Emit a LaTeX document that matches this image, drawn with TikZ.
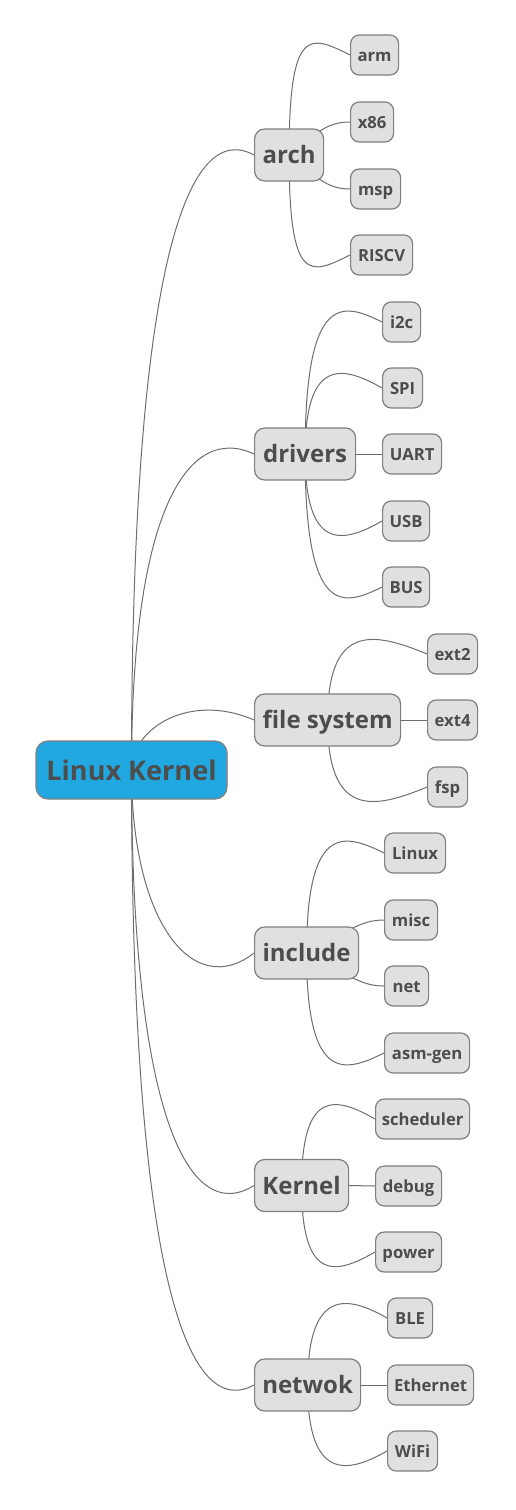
\documentclass[tikz,border=0pt]{standalone}
\usepackage{fontspec}
\setmainfont{Open Sans}
\usetikzlibrary{backgrounds}
\definecolor{txtc}{HTML}{4D4D4D}
\definecolor{boxfill}{HTML}{E0E0E0}
\definecolor{boxline}{HTML}{7F7F7F}
\definecolor{edgec}{HTML}{6E6E6E}
\definecolor{rootfill}{HTML}{22A8E0}
\begin{document}
\begin{tikzpicture}[x=0.75pt,y=-0.75pt,
  boxbase/.style={draw=boxline, line width=0.9pt, text=txtc, inner sep=0pt, text depth=0pt, align=center},
  rootbox/.style={boxbase, fill=rootfill, rounded corners=9pt, minimum width=143.25pt, minimum height=43.5pt,
     font=\fontsize{20.3}{24}\selectfont\bfseries, text height=15pt},
  branchbox/.style={boxbase, fill=boxfill, rounded corners=7.5pt, anchor=west, minimum height=39pt,
     minimum width={0.75pt*#1}, font=\fontsize{18}{21}\selectfont\bfseries, text height=13pt},
  leafbox/.style={boxbase, fill=boxfill, rounded corners=6.5pt, anchor=west, minimum height=30pt,
     minimum width={0.75pt*#1}, font=\fontsize{12.5}{15}\selectfont\bfseries, text height=9pt},
  link/.style={draw=edgec, line width=0.75pt}
]
\useasboundingbox (0,0) rectangle (515,1510);

% root
\node[rootbox] (root) at (131.5,770) {Linux Kernel};

% branches
\node[branchbox=69]  (arch)    at (254,155)    {arch};
\node[branchbox=101] (drivers) at (254,454)    {drivers};
\node[branchbox=146] (fs)      at (254,720)    {file system};
\node[branchbox=104] (include) at (254,953)    {include};
\node[branchbox=94]  (kernel)  at (254,1185.5) {Kernel};
\node[branchbox=106] (netwok)  at (254,1385)   {netwok};

% leaves
\node[leafbox=48] (arm)   at (350,55)  {arm};
\node[leafbox=43] (x86)   at (350,122) {x86};
\node[leafbox=50] (msp)   at (350,189) {msp};
\node[leafbox=62] (riscv) at (350,255) {RISCV};

\node[leafbox=38] (i2c)  at (382,322) {i2c};
\node[leafbox=40] (spi)  at (382,388) {SPI};
\node[leafbox=59] (uart) at (382,454) {UART};
\node[leafbox=47] (usb)  at (382,521) {USB};
\node[leafbox=47] (bus)  at (382,587) {BUS};

\node[leafbox=50] (ext2) at (427,654) {ext2};
\node[leafbox=50] (ext4) at (427,720) {ext4};
\node[leafbox=40] (fsp)  at (427,787) {fsp};

\node[leafbox=61] (linux)  at (384,853)  {Linux};
\node[leafbox=53] (misc)   at (384,920)  {misc};
\node[leafbox=44] (net)    at (384,986)  {net};
\node[leafbox=85] (asmgen) at (384,1053) {asm-gen};

\node[leafbox=94] (sched) at (375,1119) {scheduler};
\node[leafbox=66] (debug) at (375,1186) {debug};
\node[leafbox=66] (power) at (375,1252) {power};

\node[leafbox=45] (ble)   at (387,1318) {BLE};
\node[leafbox=86] (eth)   at (387,1385) {Ethernet};
\node[leafbox=50] (wifi)  at (387,1451) {WiFi};

\begin{scope}[on background layer]
% root -> branches
\draw[link] (root.center) .. controls +(0,-517) and +(-64,-35) .. (arch.west);
\draw[link] (root.center) .. controls +(0,-265) and +(-64,-30) .. (drivers.west);
\draw[link] (root.center) .. controls +(0,-42) and +(-64,-28) .. (fs.west);
\draw[link] (root.center) .. controls +(0,154) and +(-60,47) .. (include.west);
\draw[link] (root.center) .. controls +(0,349) and +(-64,40) .. (kernel.west);
\draw[link] (root.center) .. controls +(0,517) and +(-64,35) .. (netwok.west);

% arch
\draw[link] (arch.center) .. controls +(0,-130) and +(-40,-20) .. (arm.west);
\draw[link] (arch.center) .. controls +(26,-20) and +(-25,0) .. (x86.west);
\draw[link] (arch.center) .. controls +(26,20) and +(-25,0) .. (msp.west);
\draw[link] (arch.center) .. controls +(0,130) and +(-40,20) .. (riscv.west);

% drivers
\draw[link] (drivers.center) .. controls +(0,-162) and +(-40,-20) .. (i2c.west);
\draw[link] (drivers.center) .. controls +(0,-96) and +(-40,-23) .. (spi.west);
\draw[link] (drivers.east) -- (uart.west);
\draw[link] (drivers.center) .. controls +(0,97) and +(-40,23) .. (usb.west);
\draw[link] (drivers.center) .. controls +(0,163) and +(-40,20) .. (bus.west);

% file system
\draw[link] (fs.center) .. controls +(0,-96) and +(-55,-23) .. (ext2.west);
\draw[link] (fs.east) -- (ext4.west);
\draw[link] (fs.center) .. controls +(0,97) and +(-55,23) .. (fsp.west);

% include
\draw[link] (include.center) .. controls +(0,-130) and +(-40,-20) .. (linux.west);
\draw[link] (include.center) .. controls +(40,-20) and +(-25,0) .. (misc.west);
\draw[link] (include.center) .. controls +(40,20) and +(-25,0) .. (net.west);
\draw[link] (include.center) .. controls +(0,130) and +(-40,20) .. (asmgen.west);

% Kernel
\draw[link] (kernel.center) .. controls +(0,-96) and +(-40,-23) .. (sched.west);
\draw[link] (kernel.east) -- (debug.west);
\draw[link] (kernel.center) .. controls +(0,97) and +(-40,23) .. (power.west);

% netwok
\draw[link] (netwok.center) .. controls +(0,-97) and +(-40,-23) .. (ble.west);
\draw[link] (netwok.east) -- (eth.west);
\draw[link] (netwok.center) .. controls +(0,96) and +(-40,23) .. (wifi.west);
\end{scope}
\end{tikzpicture}
\end{document}
